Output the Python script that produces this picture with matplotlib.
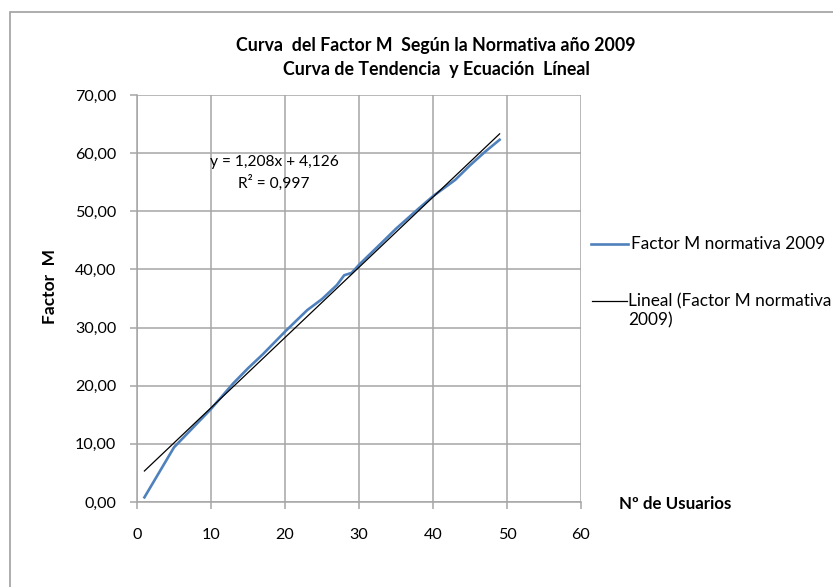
import matplotlib
matplotlib.use("Agg")
import matplotlib.pyplot as plt
from matplotlib.patches import Rectangle
from matplotlib.lines import Line2D
import numpy as np

plt.rcParams['font.family'] = ['Lato', 'DejaVu Sans']

# Factor M por número de usuarios (normativa 2009)
usuarios = [1, 5, 10, 13, 15, 17, 20, 23, 25, 27, 28, 29, 30, 33, 35, 38, 40, 43, 45, 47, 49]
factor_m = [0.8, 9.4, 16.0, 20.4, 23.0, 25.4, 29.3, 33.0, 34.9, 37.3, 39.0, 39.4, 40.8,
            44.5, 47.0, 50.4, 52.6, 55.4, 57.9, 60.2, 62.3]

# recta de tendencia
pendiente = 1.208
intercepto = 4.126
r2 = 0.997

x_ticks = [0, 10, 20, 30, 40, 50, 60]
y_ticks = [0, 10, 20, 30, 40, 50, 60, 70]

grid_col = '#a6a6a6'
blue = '#4f81bd'

fig = plt.figure(figsize=(8.33, 5.87), dpi=100)
W, H = 833, 587

def fx(px):
    return px / W

def fy(py):
    return 1 - py / H

# marco exterior del gráfico
fig.patches.append(Rectangle((fx(10), -0.05), 1.1, fy(12) + 0.05,
                             transform=fig.transFigure, fill=False,
                             edgecolor='#a0a0a0', linewidth=1.2))

ax = fig.add_axes([fx(137), fy(502), 444 / W, 407 / H])
ax.set_xlim(0, 60)
ax.set_ylim(0, 70)
ax.set_xticks(x_ticks)
ax.set_yticks(y_ticks)
ax.set_yticklabels([f"{v:.2f}".replace('.', ',') for v in y_ticks])
ax.grid(True, color=grid_col, linewidth=1.1)
ax.set_axisbelow(True)
for side in ['top', 'right']:
    ax.spines[side].set_visible(False)
for side in ['left', 'bottom']:
    ax.spines[side].set_color(grid_col)
    ax.spines[side].set_linewidth(1.1)
ax.tick_params(direction='out', length=5, width=1.1, color=grid_col,
               labelsize=11.6, labelcolor='black')
ax.tick_params(axis='x', pad=14)
ax.tick_params(axis='y', pad=10)

ax.plot(usuarios, factor_m, color=blue, linewidth=1.9, solid_joinstyle='round',
        clip_on=False)

xt = np.array([usuarios[0], usuarios[-1]])
ax.plot(xt, pendiente * xt + intercepto, color='black', linewidth=0.9, clip_on=False)

eq = f"y = {pendiente:.3f}x + {intercepto:.3f}".replace('.', ',')
r2_txt = f"R² = {r2:.3f}".replace('.', ',')
ax.text(18.5, 56.6, eq + "\n" + r2_txt, ha='center', va='center', fontsize=11.2,
        linespacing=1.45)

ax.set_ylabel('Factor  M', fontsize=12.5, fontweight='bold')
ax.yaxis.set_label_coords(-0.178, 0.53)
fig.text(fx(619), fy(504), 'Nº de Usuarios', fontsize=12.2, fontweight='bold',
         va='center', ha='left')

fig.text(fx(436), fy(46), 'Curva  del Factor M  Según la Normativa año 2009',
         fontsize=12.8, fontweight='bold', ha='center', va='center')
fig.text(fx(436), fy(70), 'Curva de Tendencia  y Ecuación  Líneal',
         fontsize=12.8, fontweight='bold', ha='center', va='center')

# leyenda a la derecha, con la muestra alineada a la primera línea del texto
fig.add_artist(Line2D([fx(591), fx(628)], [fy(244), fy(244)], color=blue,
                      linewidth=1.9, transform=fig.transFigure))
fig.text(fx(631), fy(244), 'Factor M normativa 2009', fontsize=12.4,
         va='center', ha='left')
fig.add_artist(Line2D([fx(592), fx(627)], [fy(301), fy(301)], color='black',
                      linewidth=0.9, transform=fig.transFigure))
fig.text(fx(628), fy(301), 'Lineal (Factor M normativa', fontsize=12.4,
         va='center', ha='left')
fig.text(fx(628), fy(320), '2009)', fontsize=12.4, va='center', ha='left')

fig.savefig('out.png', dpi=100)
